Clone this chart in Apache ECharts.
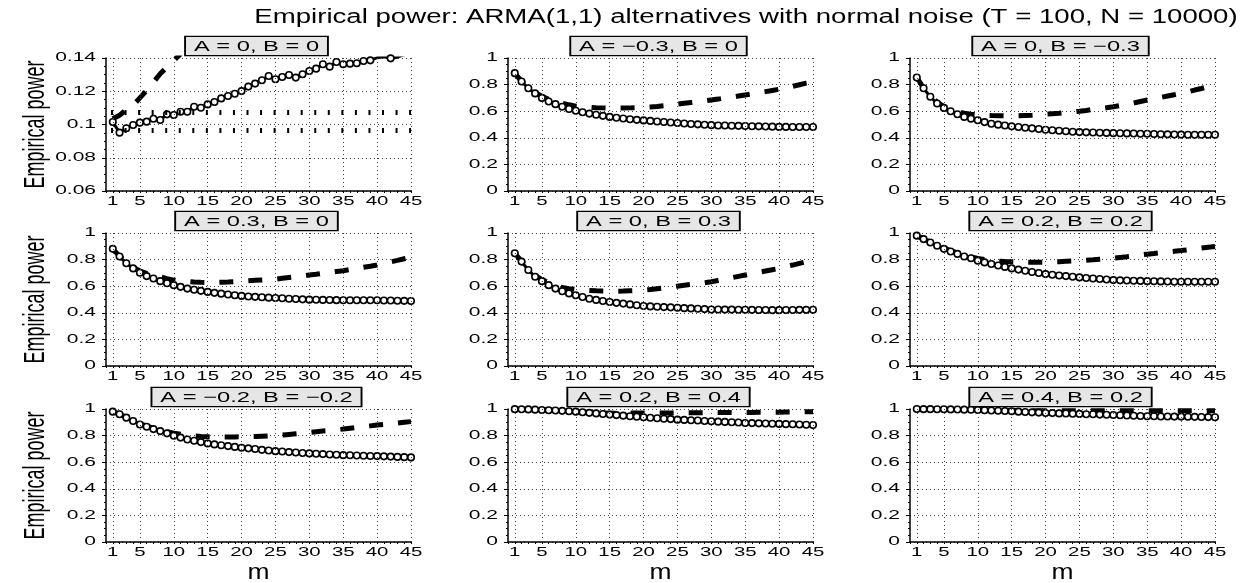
<!DOCTYPE html>
<html><head><meta charset="utf-8">
<script src="https://cdn.jsdelivr.net/npm/echarts@6/dist/echarts.min.js"></script>
<style>html,body{margin:0;padding:0;background:#fff}#c{width:1244px;height:583px}</style>
</head><body><div id="c"></div>
<script>
// ---------------- DATA ----------------
const mValues = [1,2,3,4,5,6,7,8,9,10,11,12,13,14,15,16,17,18,19,20,21,22,23,24,25,26,27,28,29,30,31,32,33,34,35,36,37,38,39,40,41,42,43,44,45];
const xTicks = [1,5,10,15,20,25,30,35,40,45];
const yTicksSmall = [0.06,0.08,0.1,0.12,0.14];
const yLabelsSmall = ['0.06','0.08','0.1','0.12','0.14'];
const yTicksUnit = [0,0.2,0.4,0.6,0.8,1];
const yLabelsUnit = ['0','0.2','0.4','0.6','0.8','1'];
const panelTitles = ['A = 0, B = 0','A = \u22120.3, B = 0','A = 0, B = \u22120.3','A = 0.3, B = 0','A = 0, B = 0.3','A = 0.2, B = 0.2','A = \u22120.2, B = \u22120.2','A = 0.2, B = 0.4','A = 0.4, B = 0.2'];
const mainTitle = 'Empirical power: ARMA(1,1) alternatives with normal noise (T = 100, N = 10000)';
const yName = 'Empirical power';
const xName = 'm';
const nominalBand = [0.1072, 0.0968];

// panel 1: A=0,B=0
const solid1 = [0.1015,0.0951,0.0977,0.0997,0.1011,0.1017,0.1035,0.1027,0.1061,0.1057,0.1077,0.1077,0.1107,0.1101,0.1121,0.1135,0.1157,0.1171,0.1185,0.1201,0.1228,0.1246,0.1266,0.1292,0.1272,0.1286,0.1298,0.1282,0.1302,0.1322,0.1336,0.1362,0.1348,0.1376,0.1362,0.1366,0.1368,0.1382,0.1386,0.1402,0.1408,0.1398,0.1405,0.1420,0.1430];
const dashed1 = [0.1035,0.1055,0.1090,0.1115,0.1160,0.1205,0.1255,0.1305,0.1345,0.1385,0.1425];
// panel 2: A=-0.3,B=0
const solid2 = [0.886,0.823,0.772,0.734,0.700,0.673,0.653,0.634,0.617,0.603,0.592,0.582,0.573,0.565,0.557,0.551,0.545,0.540,0.535,0.531,0.527,0.523,0.519,0.515,0.511,0.508,0.504,0.501,0.498,0.495,0.493,0.492,0.491,0.490,0.489,0.487,0.486,0.485,0.484,0.482,0.482,0.481,0.481,0.481,0.481];
const dashed2 = [0.884,0.826,0.778,0.741,0.712,0.690,0.674,0.660,0.648,0.638,0.633,0.629,0.626,0.625,0.624,0.624,0.624,0.625,0.626,0.628,0.632,0.636,0.641,0.647,0.653,0.659,0.665,0.671,0.677,0.684,0.691,0.699,0.706,0.714,0.722,0.730,0.739,0.747,0.756,0.765,0.776,0.787,0.799,0.811,0.820];
// panel 3: A=0,B=-0.3
const solid3 = [0.853,0.772,0.709,0.658,0.625,0.600,0.577,0.557,0.544,0.532,0.518,0.506,0.499,0.492,0.486,0.481,0.476,0.471,0.466,0.461,0.457,0.453,0.449,0.446,0.443,0.441,0.440,0.438,0.437,0.435,0.434,0.433,0.432,0.431,0.430,0.429,0.427,0.426,0.425,0.424,0.423,0.423,0.423,0.423,0.423];
const dashed3 = [0.852,0.775,0.715,0.668,0.635,0.612,0.596,0.585,0.577,0.572,0.569,0.567,0.566,0.565,0.565,0.566,0.568,0.570,0.573,0.577,0.581,0.585,0.590,0.595,0.600,0.606,0.613,0.619,0.626,0.633,0.642,0.652,0.662,0.673,0.684,0.694,0.704,0.714,0.724,0.734,0.746,0.759,0.771,0.784,0.797];
// panel 4: A=0.3,B=0
const solid4 = [0.881,0.823,0.772,0.734,0.701,0.676,0.658,0.638,0.622,0.608,0.595,0.582,0.573,0.565,0.557,0.550,0.544,0.538,0.532,0.527,0.523,0.520,0.517,0.514,0.511,0.509,0.506,0.504,0.501,0.499,0.498,0.497,0.496,0.495,0.494,0.494,0.494,0.494,0.494,0.494,0.493,0.492,0.491,0.490,0.489];
const dashed4 = [0.880,0.826,0.778,0.742,0.714,0.697,0.684,0.670,0.657,0.646,0.640,0.635,0.631,0.629,0.628,0.628,0.630,0.632,0.635,0.638,0.641,0.644,0.647,0.650,0.653,0.659,0.665,0.671,0.677,0.684,0.690,0.697,0.703,0.710,0.716,0.725,0.733,0.742,0.750,0.759,0.771,0.783,0.794,0.806,0.818];
// panel 5: A=0,B=0.3
const solid5 = [0.848,0.785,0.722,0.671,0.638,0.608,0.582,0.562,0.546,0.532,0.519,0.506,0.497,0.489,0.481,0.475,0.469,0.463,0.457,0.451,0.448,0.446,0.443,0.441,0.438,0.435,0.433,0.430,0.428,0.425,0.425,0.424,0.424,0.423,0.423,0.422,0.421,0.421,0.420,0.420,0.421,0.421,0.422,0.422,0.423];
const dashed5 = [0.846,0.788,0.730,0.682,0.650,0.625,0.605,0.590,0.581,0.575,0.571,0.568,0.565,0.563,0.562,0.562,0.563,0.565,0.567,0.570,0.575,0.581,0.587,0.593,0.600,0.607,0.613,0.620,0.626,0.633,0.643,0.653,0.664,0.674,0.684,0.694,0.704,0.714,0.724,0.734,0.747,0.759,0.772,0.784,0.797];
// panel 6: A=0.2,B=0.2
const solid6 = [0.980,0.954,0.929,0.904,0.881,0.861,0.843,0.823,0.810,0.792,0.779,0.767,0.756,0.745,0.734,0.725,0.716,0.707,0.699,0.691,0.686,0.681,0.676,0.671,0.666,0.662,0.658,0.654,0.650,0.646,0.644,0.643,0.641,0.640,0.638,0.637,0.636,0.635,0.634,0.633,0.633,0.633,0.633,0.633,0.633];
const dashed6 = [0.980,0.955,0.931,0.907,0.886,0.867,0.850,0.834,0.820,0.808,0.800,0.794,0.789,0.786,0.784,0.782,0.781,0.780,0.780,0.780,0.782,0.784,0.787,0.789,0.792,0.796,0.799,0.803,0.806,0.810,0.816,0.822,0.829,0.835,0.841,0.846,0.852,0.857,0.863,0.868,0.874,0.880,0.887,0.893,0.899];
// panel 7: A=-0.2,B=-0.2
const solid7 = [0.980,0.960,0.935,0.910,0.884,0.867,0.849,0.834,0.817,0.799,0.785,0.771,0.761,0.751,0.741,0.734,0.728,0.721,0.715,0.709,0.704,0.699,0.693,0.688,0.683,0.680,0.676,0.673,0.669,0.666,0.663,0.661,0.658,0.656,0.653,0.652,0.650,0.649,0.647,0.646,0.644,0.642,0.640,0.638,0.636];
const dashed7 = [0.980,0.961,0.938,0.914,0.891,0.872,0.856,0.842,0.829,0.818,0.810,0.803,0.798,0.794,0.791,0.790,0.789,0.789,0.790,0.791,0.792,0.793,0.795,0.797,0.799,0.804,0.809,0.814,0.819,0.824,0.829,0.834,0.839,0.844,0.849,0.855,0.861,0.867,0.873,0.879,0.884,0.889,0.894,0.900,0.905];
// panel 8: A=0.2,B=0.4
const solid8 = [0.999,0.998,0.997,0.995,0.993,0.991,0.989,0.986,0.983,0.980,0.976,0.971,0.967,0.962,0.958,0.954,0.950,0.946,0.942,0.938,0.934,0.931,0.927,0.924,0.920,0.918,0.915,0.913,0.910,0.908,0.905,0.903,0.900,0.898,0.895,0.894,0.892,0.891,0.889,0.888,0.886,0.885,0.883,0.882,0.880];
const dashed8 = [0.999,0.998,0.997,0.996,0.994,0.992,0.990,0.987,0.984,0.981,0.978,0.975,0.972,0.970,0.968,0.968,0.968,0.969,0.969,0.970,0.970,0.970,0.970,0.970,0.970,0.971,0.971,0.972,0.972,0.973,0.973,0.973,0.973,0.973,0.974,0.974,0.975,0.975,0.975,0.976,0.977,0.978,0.979,0.980,0.980];
// panel 9: A=0.4,B=0.2
const solid9 = [0.9995,0.999,0.999,0.998,0.998,0.997,0.996,0.995,0.994,0.993,0.991,0.989,0.987,0.985,0.983,0.980,0.978,0.975,0.973,0.970,0.969,0.967,0.966,0.964,0.963,0.961,0.960,0.958,0.957,0.955,0.953,0.951,0.949,0.947,0.945,0.945,0.944,0.944,0.943,0.943,0.942,0.941,0.940,0.939,0.938];
const dashed9 = [0.9995,0.999,0.999,0.998,0.998,0.997,0.997,0.996,0.995,0.994,0.993,0.992,0.991,0.990,0.989,0.988,0.987,0.987,0.986,0.986,0.986,0.986,0.986,0.986,0.986,0.986,0.986,0.986,0.986,0.986,0.986,0.986,0.986,0.986,0.986,0.986,0.986,0.986,0.986,0.986,0.986,0.986,0.986,0.986,0.986];

const solidSets = [solid1,solid2,solid3,solid4,solid5,solid6,solid7,solid8,solid9];
const dashedSets = [dashed1,dashed2,dashed3,dashed4,dashed5,dashed6,dashed7,dashed8,dashed9];

// ---------------- LAYOUT / STYLE ----------------
const FONT = '"Liberation Sans", Arial, Helvetica, sans-serif';
const colLeft = [106, 508, 910], colWidth = 305;
const rowTop = [58, 233, 409], rowHeight = 133;

const chart = echarts.init(document.getElementById('c'));
const grids = [], xAxes = [], yAxes = [], series = [];
const pairs = (vals) => vals.map((v, k) => [mValues[k], v]);

for (let i = 0; i < 9; i++) {
  const r = Math.floor(i / 3), c = i % 3;
  grids.push({ left: colLeft[c], top: rowTop[r], width: colWidth, height: rowHeight });
  xAxes.push({
    type: 'value', gridIndex: i, min: 0, max: 45, interval: 1,
    axisLine: { show: true, onZero: false, lineStyle: { color: '#000', width: 1.5 } },
    axisTick: { show: true, length: 2, lineStyle: { color: '#000', width: 1 } },
    axisLabel: { show: false }, splitLine: { show: false }
  });
  const yr = i === 0 ? { min: 0.06, max: 0.14, interval: 0.02 } : { min: 0, max: 1, interval: 0.2 };
  yAxes.push(Object.assign({
    type: 'value', gridIndex: i,
    axisLine: { show: true, onZero: false, lineStyle: { color: '#000', width: 1.5 } },
    axisTick: { show: true, length: 4, lineStyle: { color: '#000', width: 1 } },
    minorTick: { show: true, splitNumber: 4, length: 2, lineStyle: { color: '#000', width: 1 } },
    axisLabel: { show: false },
    splitLine: { show: true, lineStyle: { type: [1, 3], color: '#444', width: 1 } }
  }, yr));

  const mlData = xTicks.map(v => ({ xAxis: v }));
  if (i === 0) {
    nominalBand.forEach(v => mlData.push({ yAxis: v, lineStyle: { type: [2, 11.55], dashOffset: 8.55, width: 5, color: '#000' } }));
  }
  series.push({
    type: 'line', xAxisIndex: i, yAxisIndex: i, data: [], z: 1, silent: true,
    markLine: {
      silent: true, symbol: ['none', 'none'], animation: false, precision: 6,
      label: { show: false },
      lineStyle: { type: [1, 3], color: '#444', width: 1 },
      emphasis: { disabled: true },
      data: mlData
    }
  });
  series.push({
    type: 'line', xAxisIndex: i, yAxisIndex: i, data: pairs(dashedSets[i]), z: 3,
    showSymbol: false, symbol: 'none', silent: true,
    lineStyle: { color: '#000', width: 5, type: [14, 15] }
  });
  series.push({
    type: 'line', xAxisIndex: i, yAxisIndex: i, data: pairs(solidSets[i]), z: 4,
    symbol: 'circle', symbolSize: 6.5, showAllSymbol: true, silent: true,
    lineStyle: { color: '#000', width: 3 },
    itemStyle: { color: '#fff', borderColor: '#000', borderWidth: 1.6 }
  });
}

chart.setOption({
  animation: false,
  backgroundColor: '#fff',
  grid: grids, xAxis: xAxes, yAxis: yAxes, series: series
});

// ---------------- TEXT (via library coordinate conversion) ----------------
const g = [];
const txt = (x, y, text, opt) => Object.assign({
  type: 'text', x: x, y: y, silent: true, z: 50,
  style: Object.assign({ text: text, fill: '#000', font: opt.font,
    align: opt.align, textAlign: opt.align,
    verticalAlign: opt.va, textVerticalAlign: opt.va }, opt.style || {})
}, opt.tf || {});

for (let i = 0; i < 9; i++) {
  const r = Math.floor(i / 3), c = i % 3;
  const yT = i === 0 ? yTicksSmall : yTicksUnit;
  const yL = i === 0 ? yLabelsSmall : yLabelsUnit;
  const yMin = yT[0], yMax = yT[yT.length - 1];
  yT.forEach((v, k) => {
    const p = chart.convertToPixel({ gridIndex: i }, [0, v]);
    g.push(txt(p[0] - 10, p[1], yL[k], { font: '12px ' + FONT, align: 'right', va: 'middle', tf: { scaleX: 1.75 } }));
  });
  xTicks.forEach(v => {
    const p = chart.convertToPixel({ gridIndex: i }, [v, yMin]);
    g.push(txt(p[0], p[1] + 11, String(v), { font: '12px ' + FONT, align: 'center', va: 'middle', tf: { scaleX: 1.7 } }));
  });
  const pl = chart.convertToPixel({ gridIndex: i }, [0, yMax]);
  const pr = chart.convertToPixel({ gridIndex: i }, [45, yMin]);
  const cx = (pl[0] + pr[0]) / 2, cy = (pl[1] + pr[1]) / 2;
  g.push(txt(cx - 2, pl[1] - 3, panelTitles[i], {
    font: '15px ' + FONT, align: 'center', va: 'bottom', tf: { scaleX: 1.58 },
    style: { backgroundColor: '#e6e6e6', borderColor: '#000', borderWidth: 1.2, padding: [2, 5, 1, 5] }
  }));
  if (c === 0) {
    g.push(txt(36, cy, yName, { font: '18px ' + FONT, align: 'center', va: 'middle', tf: { rotation: Math.PI / 2, scaleY: 1.6 } }));
  }
  if (r === 2) {
    g.push(txt(cx, pr[1] + 31, xName, { font: '22px ' + FONT, align: 'center', va: 'middle', tf: { scaleX: 1.2 } }));
  }
}
g.push(txt(746, 17, mainTitle, { font: '20px ' + FONT, align: 'center', va: 'middle', tf: { scaleX: 1.38 } }));

chart.setOption({ graphic: { elements: g } });
</script>
</body></html>
